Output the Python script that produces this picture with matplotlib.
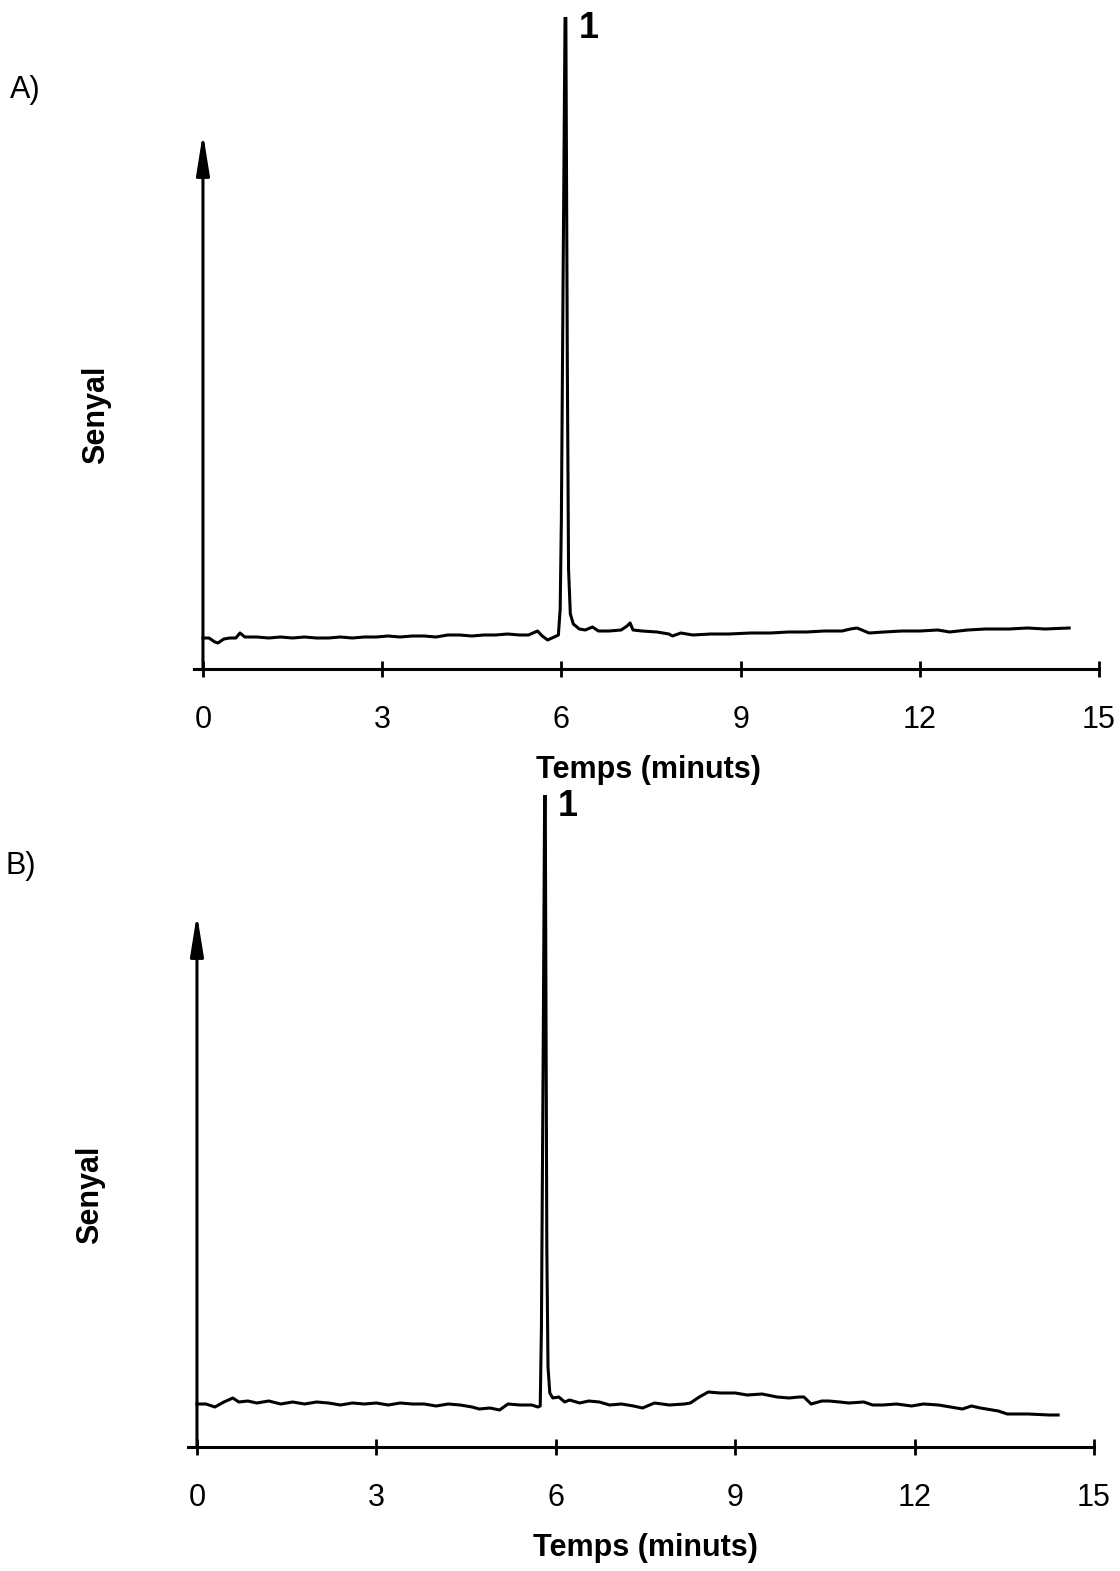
import matplotlib
matplotlib.use("Agg")
import matplotlib.pyplot as plt

plt.rcParams['font.family'] = ['Liberation Sans', 'DejaVu Sans']

# ---- data (time in minutes, signal in arbitrary units) ----
time_a = [0.00, 0.10, 0.20, 0.25, 0.35, 0.45, 0.55, 0.62, 0.70, 0.90, 1.10, 1.30, 1.50, 1.70,
          1.90, 2.10, 2.30, 2.50, 2.70, 2.90, 3.10, 3.30, 3.50, 3.70, 3.90, 4.10, 4.30, 4.50,
          4.70, 4.90, 5.10, 5.30, 5.45, 5.60, 5.68, 5.77, 5.88, 5.95, 5.98, 6.00, 6.03, 6.07,
          6.10, 6.12, 6.15, 6.20, 6.30, 6.40, 6.52, 6.62, 6.80, 7.00, 7.10, 7.15, 7.20, 7.35,
          7.60, 7.80, 7.86, 8.00, 8.20, 8.50, 8.80, 9.17, 9.50, 9.80, 10.10, 10.40, 10.70,
          10.84, 10.95, 11.15, 11.40, 11.70, 12.00, 12.30, 12.50, 12.80, 13.10, 13.50, 13.80,
          14.10, 14.50]
signal_a = [31, 31, 27, 26, 30, 31, 31, 36, 32, 32, 31, 32, 31, 32,
            31, 31, 32, 31, 32, 32, 33, 32, 33, 33, 32, 34, 34, 33,
            34, 34, 35, 34, 34, 38, 33, 29, 32, 34, 60, 150, 400, 720,
            300, 100, 55, 45, 40, 39, 42, 38, 38, 39, 43, 46, 39, 38,
            37, 35, 33, 36, 34, 35, 35, 36, 36, 37, 37, 38, 38,
            40, 41, 36, 37, 38, 38, 39, 37, 39, 40, 40, 41,
            40, 41]

time_b = [0.00, 0.15, 0.30, 0.45, 0.60, 0.70, 0.85, 1.00, 1.20, 1.40, 1.60, 1.80, 2.00, 2.20,
          2.40, 2.60, 2.80, 3.00, 3.20, 3.40, 3.60, 3.80, 4.00, 4.20, 4.40, 4.60, 4.72, 4.90,
          5.06, 5.20, 5.40, 5.60, 5.70, 5.74, 5.76, 5.79, 5.82, 5.85, 5.87, 5.90, 5.95, 6.05,
          6.15, 6.23, 6.40, 6.55, 6.73, 6.90, 7.10, 7.30, 7.45, 7.65, 7.90, 8.15, 8.25, 8.40,
          8.55, 8.75, 9.00, 9.20, 9.45, 9.70, 9.90, 10.07, 10.15, 10.27, 10.45, 10.57, 10.75,
          10.90, 11.15, 11.30, 11.47, 11.70, 11.95, 12.15, 12.40, 12.60, 12.80, 12.95, 13.10,
          13.40, 13.55, 13.90, 14.25, 14.40]
signal_b = [43, 43, 40, 45, 49, 45, 46, 44, 46, 43, 45, 43, 45, 44,
            42, 44, 43, 44, 42, 44, 43, 43, 41, 43, 42, 40, 38, 39,
            37, 43, 42, 42, 40, 41, 120, 400, 720, 200, 80, 54, 49, 50,
            45, 47, 44, 46, 45, 42, 43, 41, 39, 44, 42, 43, 44, 50,
            55, 54, 54, 52, 53, 50, 49, 50, 50, 43, 46, 46, 45,
            44, 45, 42, 42, 43, 41, 43, 42, 40, 38, 41, 39,
            36, 33, 33, 32, 32]

x_ticks = [0, 3, 6, 9, 12, 15]
x_tick_labels = ["0", "3", "6", "9", "12", "15"]
peak_label = "1"
peak_pos_a = 6.45
peak_pos_b = 6.2
arrow_top_a = 536
arrow_top_b = 533
panel_labels = ["A)", "B)"]
xlabel = "Temps (minuts)"
ylabel = "Senyal"

W, H = 1120, 1571
fig = plt.figure(figsize=(W / 100, H / 100), dpi=100)


def make_axes(left_px, right_px, top_px, bottom_px):
    return fig.add_axes([left_px / W, 1 - bottom_px / H,
                         (right_px - left_px) / W, (bottom_px - top_px) / H])


def draw_panel(ax, t, s, arrow_top, peak_x):
    ax.plot(t, s, color='black', lw=2.2, solid_joinstyle='round')
    ax.set_xlim(-0.15, 15.0)
    ax.set_ylim(0, 652)
    for sp in ['top', 'right', 'left']:
        ax.spines[sp].set_visible(False)
    ax.spines['bottom'].set_linewidth(2.2)
    ax.set_yticks([])
    ax.set_xticks(x_ticks)
    ax.set_xticklabels(x_tick_labels, fontsize=22)
    ax.tick_params(axis='x', direction='inout', length=12, width=2.0, pad=20)
    ax.annotate('', xy=(0, arrow_top), xytext=(0, 0),
                arrowprops=dict(arrowstyle='-|>,head_length=1.25,head_width=0.2',
                                mutation_scale=20, lw=2.2, color='black',
                                shrinkA=0, shrinkB=0))
    ax.text(peak_x, 640, peak_label, fontsize=26, fontweight='bold',
            ha='center', va='center', clip_on=False)


axA = make_axes(194, 1099, 17, 669)
draw_panel(axA, time_a, signal_a, arrow_top_a, peak_pos_a)
axB = make_axes(188, 1094, 795, 1447)
draw_panel(axB, time_b, signal_b, arrow_top_b, peak_pos_b)


def ftext(x, y, s, **kw):
    fig.text(x / W, 1 - y / H, s, **kw)


ftext(10, 90, panel_labels[0], fontsize=22, ha='left', va='center')
ftext(6, 866, panel_labels[1], fontsize=22, ha='left', va='center')
ftext(648, 770, xlabel, fontsize=22, fontweight='bold', ha='center', va='center')
ftext(645, 1548, xlabel, fontsize=22, fontweight='bold', ha='center', va='center')
ftext(96, 415, ylabel, fontsize=22, fontweight='bold', ha='center', va='center', rotation=90)
ftext(90, 1195, ylabel, fontsize=22, fontweight='bold', ha='center', va='center', rotation=90)

fig.savefig("out.png", dpi=100, facecolor='white')
